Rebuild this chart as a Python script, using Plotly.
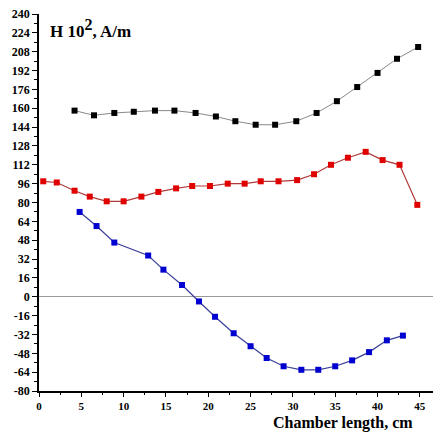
import plotly.graph_objects as go

# Data
black_x = [4.2, 6.5, 8.9, 11.2, 13.7, 16.0, 18.5, 20.9, 23.2, 25.6, 27.9, 30.4, 32.8, 35.2, 37.6, 40.0, 42.3, 44.8]
black_y = [158, 154, 156, 157, 158, 158, 156, 153, 149, 146, 146, 149, 156, 166, 178, 190, 202, 212]

red_x = [0.5, 2.1, 4.2, 6.0, 8.0, 10.0, 12.1, 14.1, 16.2, 18.1, 20.2, 22.3, 24.3, 26.2, 28.3, 30.5, 32.5,
         34.5, 36.5, 38.6, 40.6, 42.6, 44.7]
red_y = [98, 97, 90, 85, 81, 81, 85, 89, 92, 94, 94, 96, 96, 98, 98, 99, 104, 112, 118, 123, 116, 112, 78]

blue_x = [4.8, 6.8, 8.9, 12.9, 14.7, 16.9, 18.9, 20.8, 23.0, 25.0, 26.9, 28.9, 31.0, 33.0, 35.0, 37.0,
          39.0, 41.1, 43.0]
blue_y = [72, 60, 46, 35, 23, 10, -4, -17, -31, -42, -52, -59, -62, -62, -59, -54, -47, -37, -33]

y_tickvals = list(range(-80, 241, 16))
y_ticktext = [str(v) for v in y_tickvals]
x_tickvals = [0, 5, 10, 15, 20, 25, 30, 35, 40, 45]
x_ticktext = [str(v) for v in x_tickvals]

serif = "Liberation Serif, Times New Roman, serif"

fig = go.Figure()
fig.add_trace(go.Scatter(x=black_x, y=black_y, mode="lines+markers",
                         line=dict(color="#8a8a8a", width=1),
                         marker=dict(symbol="square", size=6, color="#000000")))
fig.add_trace(go.Scatter(x=red_x, y=red_y, mode="lines+markers",
                         line=dict(color="#b03a3a", width=1.2),
                         marker=dict(symbol="square", size=6, color="#e00000")))
fig.add_trace(go.Scatter(x=blue_x, y=blue_y, mode="lines+markers",
                         line=dict(color="#3a3f9a", width=1.2),
                         marker=dict(symbol="square", size=6, color="#0000d0")))

# page body has an 8px default margin, so the figure is sized/offset to compensate
fig.update_layout(
    width=433, height=424,
    margin=dict(l=31, r=0, t=6, b=41, autoexpand=False),
    paper_bgcolor="white", plot_bgcolor="white",
    showlegend=False,
    font=dict(family=serif, color="black", size=12, weight="bold"),
)
fig.update_xaxes(
    range=[0, 47.5], showgrid=False, zeroline=False, automargin=False,
    showline=True, linecolor="black", linewidth=1.5,
    tickmode="array", tickvals=x_tickvals, ticktext=x_ticktext,
    ticks="outside", ticklen=4, tickcolor="black", ticklabeloverflow="allow",
    minor=dict(dtick=2.5, tick0=0, ticks="outside", ticklen=2, tickcolor="black"),
    tickfont=dict(family=serif, size=11, color="black", weight="bold"),
)
fig.update_yaxes(
    range=[-80, 240], showgrid=False, automargin=False,
    zeroline=True, zerolinecolor="#9a9a9a", zerolinewidth=1,
    showline=True, linecolor="black", linewidth=1.5,
    tickmode="array", tickvals=y_tickvals, ticktext=y_ticktext,
    ticks="outside", ticklen=5, tickcolor="black", ticklabeloverflow="allow",
    minor=dict(dtick=8, tick0=0, ticks="outside", ticklen=3, tickcolor="black"),
    tickfont=dict(family=serif, size=12, color="black", weight="bold"),
)

fig.add_annotation(xref="paper", yref="paper", x=0.022, y=1.0, xanchor="left", yanchor="top",
                   text="H 10<sup><span style='font-size:16px'>2</span></sup>, A/m", showarrow=False,
                   font=dict(family=serif, size=17, color="black", weight="bold"))
fig.add_annotation(xref="paper", yref="paper", x=0.935, y=-0.055, xanchor="right", yanchor="top",
                   text="Chamber length, cm", showarrow=False,
                   font=dict(family=serif, size=16, color="black", weight="bold"))

fig.write_html("out.html")
